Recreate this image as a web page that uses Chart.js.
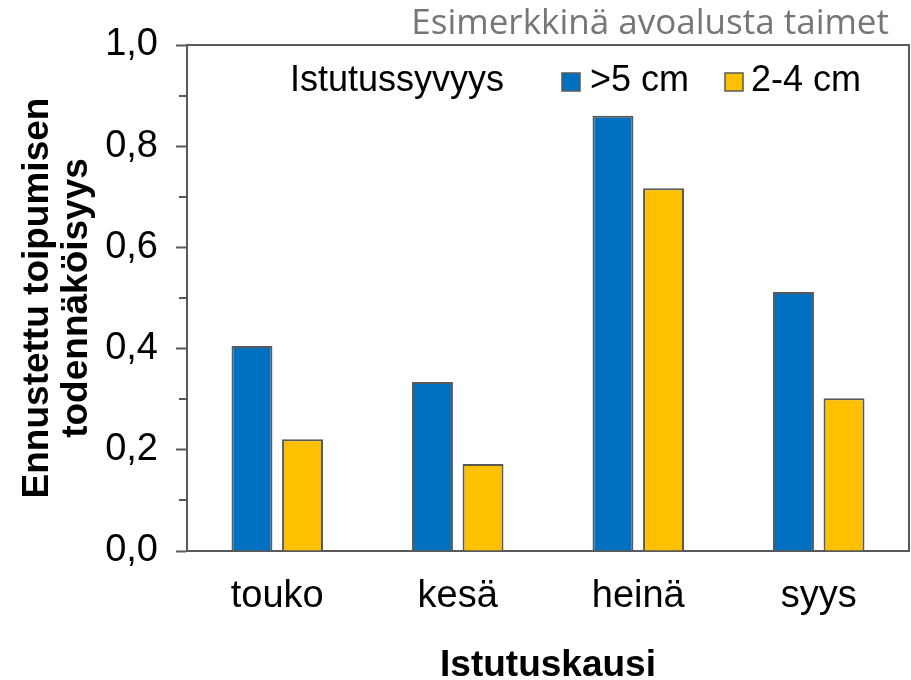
<!DOCTYPE html>
<html>
<head>
<meta charset="utf-8">
<script src="https://cdn.jsdelivr.net/npm/chart.js@4"></script>
<style>
  html, body { margin: 0; padding: 0; background: #fff; }
  #wrap { width: 911px; height: 680px; }
</style>
</head>
<body>
<div id="wrap"><canvas id="chart" width="911" height="680"></canvas></div>
<script>
// data
var seasons = ['touko', 'kesä', 'heinä', 'syys'];
var deepVals = [0.405, 0.334, 0.860, 0.512];   // >5 cm
var shallowVals = [0.221, 0.172, 0.717, 0.302]; // 2-4 cm
var seriesNames = ['>5 cm', '2-4 cm'];
var yTickLabels = ['0,0', '0,2', '0,4', '0,6', '0,8', '1,0'];
var minorTicks = [0.1, 0.3, 0.5, 0.7, 0.9];

var axisGrey = '#595959';
var blue = '#0070C0';
var yellow = '#FFC000';

var extras = {
    id: 'extras',
    afterDraw(chart) {
        const ctx = chart.ctx;
        const a = chart.chartArea;
        const y = chart.scales.y;
        ctx.save();
        // top + right frame
        ctx.strokeStyle = axisGrey;
        ctx.lineWidth = 2;
        ctx.beginPath();
        ctx.moveTo(a.left, a.top);
        ctx.lineTo(a.right, a.top);
        ctx.lineTo(a.right, a.bottom);
        ctx.stroke();
        // minor ticks
        ctx.beginPath();
        minorTicks.forEach(function(v) {
            var py = Math.round(y.getPixelForValue(v));
            ctx.moveTo(a.left - 8, py);
            ctx.lineTo(a.left, py);
        });
        ctx.stroke();

        // caption top right
        ctx.fillStyle = '#767676';
        ctx.font = '35px "Open Sans"';
        ctx.textAlign = 'right';
        ctx.textBaseline = 'alphabetic';
        ctx.fillText('Esimerkkinä avoalusta taimet', 889, 34);

        // legend
        ctx.fillStyle = '#000';
        ctx.font = '36px "Liberation Sans", Arial';
        ctx.textAlign = 'left';
        ctx.fillText('Istutussyvyys', 290, 91);
        var items = [[562, 590, blue], [725, 751, yellow]];
        items.forEach(function(it, i) {
            ctx.fillStyle = it[2];
            ctx.fillRect(it[0], 73, 18, 18);
            ctx.strokeStyle = axisGrey;
            ctx.lineWidth = 1.5;
            ctx.strokeRect(it[0], 73, 18, 18);
            ctx.fillStyle = '#000';
            ctx.fillText(seriesNames[i], it[1], 91);
        });

        // x axis title
        ctx.font = 'bold 37px "Liberation Sans", Arial';
        ctx.textAlign = 'center';
        ctx.fillText('Istutuskausi', (a.left + a.right) / 2, 676);
        ctx.restore();
    }
};

var ctx = document.getElementById('chart').getContext('2d');
var chart = new Chart(ctx, {
    type: 'bar',
    data: {
        labels: seasons,
        datasets: [
            {
                label: seriesNames[0],
                data: deepVals,
                backgroundColor: blue,
                borderColor: axisGrey,
                borderWidth: 2
            },
            {
                label: seriesNames[1],
                data: shallowVals,
                backgroundColor: yellow,
                borderColor: axisGrey,
                borderWidth: 2
            }
        ]
    },
    options: {
        responsive: false,
        animation: false,
        layout: { padding: { top: 45, right: 2, left: 0, bottom: 0 } },
        datasets: {
            bar: { categoryPercentage: 0.56, barPercentage: 0.81 }
        },
        plugins: {
            legend: { display: false },
            tooltip: { enabled: false }
        },
        scales: {
            x: {
                grid: { display: false, drawTicks: false },
                border: { display: true, color: axisGrey, width: 2 },
                ticks: {
                    color: '#000',
                    padding: 23,
                    font: { family: '"Liberation Sans", Arial', size: 38 }
                },
                afterFit(scale) { scale.height = 129; }
            },
            y: {
                min: 0,
                max: 1,
                ticks: {
                    stepSize: 0.2,
                    color: '#000',
                    padding: 18,
                    font: { family: '"Liberation Sans", Arial', size: 38 },
                    callback: function(v, i) { return yTickLabels[i]; }
                },
                grid: {
                    drawOnChartArea: false,
                    drawTicks: true,
                    tickLength: 11,
                    tickColor: axisGrey,
                    tickWidth: 2,
                    color: axisGrey
                },
                border: { display: true, color: axisGrey, width: 2 },
                title: {
                    display: true,
                    text: ['Ennustettu toipumisen', 'todennäköisyys'],
                    color: '#000',
                    padding: { top: 18, bottom: 0 },
                    font: { family: '"Liberation Sans", Arial', size: 37, weight: 'bold', lineHeight: 1.06 }
                },
                afterFit(scale) { scale.width = 187; }
            }
        }
    },
    plugins: [extras]
});
</script>
</body>
</html>
